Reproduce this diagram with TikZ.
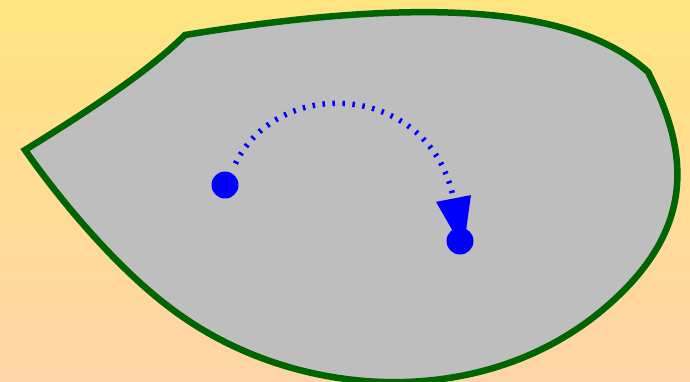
\documentclass[tikz,border=0pt]{standalone}
\usetikzlibrary{arrows.meta}
\definecolor{bgtop}{RGB}{255,229,128}
\definecolor{bgbottom}{RGB}{255,212,168}
\definecolor{blobgray}{RGB}{190,190,190}
\definecolor{blobgreen}{RGB}{0,100,0}
\definecolor{dotblue}{RGB}{0,0,255}
\tikzset{
    blob/.style={fill=blobgray, draw=blobgreen, line width=0.13cm},
    bluedot/.style={circle, fill=dotblue, minimum size=0.54cm, inner sep=0pt},
    moveflow/.style={-{Triangle[length=1.05cm,width=0.68cm]}, draw=dotblue, line width=0.11cm, dash pattern=on 0.05cm off 0.15cm}
}
\begin{document}
\begin{tikzpicture}[x=0.02cm, y=-0.02cm]
    \useasboundingbox (0,0) rectangle (690,382);
    \shade[top color=bgtop, bottom color=bgbottom] (0,0) rectangle (690,382);

    % Region outline
    \draw[blob] (25,150) .. controls (90,110) and (150,70) .. (185,35)
        .. controls (400,0) and (570,0) .. (648,72)
        .. controls (688,150) and (700,230) .. (600,312)
        .. controls (480,410) and (300,400) .. (180,315)
        .. controls (120,273) and (60,200) .. (25,150) -- cycle;

    % Points
    \node[bluedot] (startdot) at (225,185) {};
    \node[bluedot] (enddot) at (460,241) {};
    \coordinate (tip) at ([xshift=0.07cm, yshift=-0.18cm]enddot.center);

    % Motion arc
    \draw[moveflow, shorten <=0.2cm] (startdot) to[out=64, in=101, out distance=2.2cm, in distance=3.4cm] (tip);
\end{tikzpicture}
\end{document}
